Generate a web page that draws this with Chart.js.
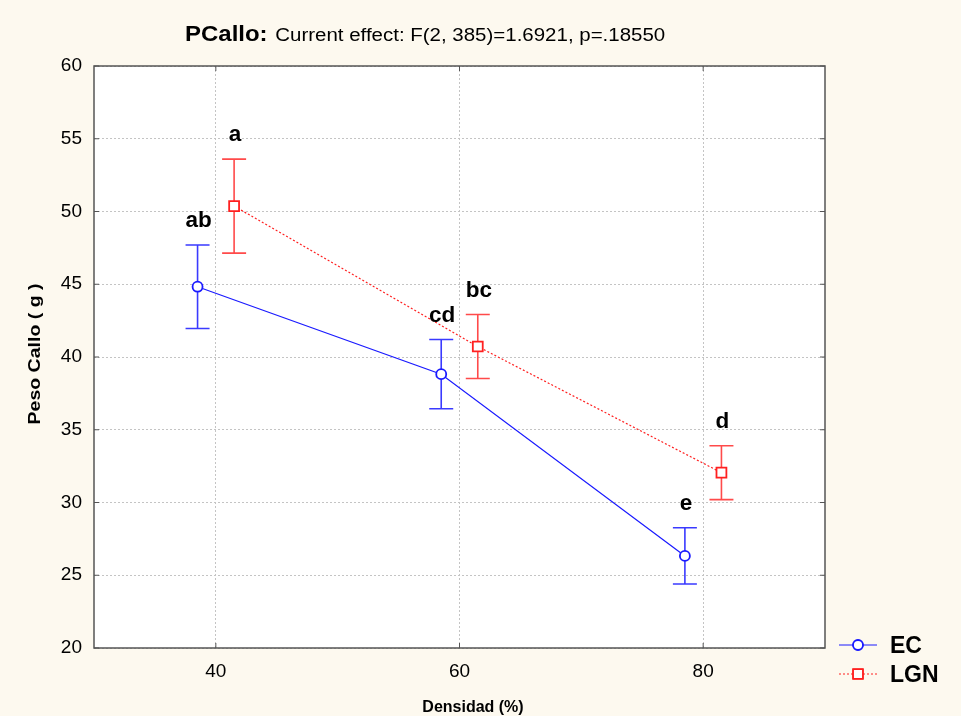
<!DOCTYPE html>
<html>
<head>
<meta charset="utf-8">
<title>PCallo</title>
<script src="https://cdn.jsdelivr.net/npm/chart.js@4.4.1/dist/chart.umd.min.js"></script>
<style>
    body { margin: 0; background: #fdf9ef; }
    canvas { display: block; }
</style>
</head>
<body>
<canvas id="pesoChart" width="961" height="716"></canvas>
<script>
// Values
const densidadEC = [38.5, 58.5, 78.5];
const densidadLGN = [41.5, 61.5, 81.5];
const mediaEC = [44.83, 38.82, 26.33];
const errorEC = [2.87, 2.38, 1.93];
const mediaLGN = [50.37, 40.72, 32.05];
const errorLGN = [3.23, 2.2, 1.85];
const letrasEC = ['ab', 'cd', 'e'];
const letrasLGN = ['a', 'bc', 'd'];
const xTicks = [40, 60, 80];
const seriesNames = ['EC', 'LGN'];

const FONT = '"Liberation Sans", Arial, sans-serif';
const BLUE = '#1a1aff';
const RED = '#ff2020';

const toPoints = (xs, ys) => xs.map((x, i) => ({ x: x, y: ys[i] }));

// draws the white plot area, error bars, frame, letters, title and legend
const decorPlugin = {
    id: 'decor',
    beforeDraw(chart) {
        const a = chart.chartArea;
        const ctx = chart.ctx;
        ctx.save();
        ctx.fillStyle = '#ffffff';
        ctx.fillRect(a.left, a.top, a.right - a.left, a.bottom - a.top);
        ctx.restore();
    },
    beforeDatasetsDraw(chart) {
        const ctx = chart.ctx;
        const xs = chart.scales.x, ys = chart.scales.y;
        const sets = [
            { x: densidadEC, m: mediaEC, e: errorEC, color: '#3a3aff' },
            { x: densidadLGN, m: mediaLGN, e: errorLGN, color: '#ff4a4a' }
        ];
        ctx.save();
        ctx.lineWidth = 1.6;
        sets.forEach(s => {
            ctx.strokeStyle = s.color;
            s.x.forEach((xv, i) => {
                const px = xs.getPixelForValue(xv);
                const top = ys.getPixelForValue(s.m[i] + s.e[i]);
                const bot = ys.getPixelForValue(s.m[i] - s.e[i]);
                ctx.beginPath();
                ctx.moveTo(px, top); ctx.lineTo(px, bot);
                ctx.moveTo(px - 12, top); ctx.lineTo(px + 12, top);
                ctx.moveTo(px - 12, bot); ctx.lineTo(px + 12, bot);
                ctx.stroke();
            });
        });
        ctx.restore();
    },
    afterDraw(chart) {
        const ctx = chart.ctx;
        const a = chart.chartArea;
        const xs = chart.scales.x, ys = chart.scales.y;
        ctx.save();

        // frame with small inward ticks
        ctx.strokeStyle = '#555555';
        ctx.lineWidth = 1.5;
        ctx.strokeRect(a.left, a.top, a.right - a.left, a.bottom - a.top);
        ctx.lineWidth = 1;
        ctx.beginPath();
        ys.ticks.forEach(t => {
            const py = ys.getPixelForValue(t.value);
            ctx.moveTo(a.left, py); ctx.lineTo(a.left + 5, py);
            ctx.moveTo(a.right, py); ctx.lineTo(a.right - 5, py);
        });
        xs.ticks.forEach(t => {
            const px = xs.getPixelForValue(t.value);
            ctx.moveTo(px, a.bottom); ctx.lineTo(px, a.bottom - 5);
            ctx.moveTo(px, a.top); ctx.lineTo(px, a.top + 5);
        });
        ctx.stroke();

        // group letters above the upper caps
        ctx.fillStyle = '#000000';
        ctx.font = 'bold 22.5px ' + FONT;
        ctx.textAlign = 'center';
        ctx.textBaseline = 'alphabetic';
        const addLetters = (xv, m, e, letters) => {
            letters.forEach((txt, i) => {
                ctx.fillText(txt, xs.getPixelForValue(xv[i]) + 1, ys.getPixelForValue(m[i] + e[i]) - 18);
            });
        };
        addLetters(densidadEC, mediaEC, errorEC, letrasEC);
        addLetters(densidadLGN, mediaLGN, errorLGN, letrasLGN);

        // title (the original text is drawn a little wide)
        ctx.save();
        ctx.textAlign = 'left';
        ctx.translate(185, 41);
        ctx.scale(1.09, 1);
        ctx.font = 'bold 22px ' + FONT;
        ctx.fillText('PCallo:', 0, 0);
        const w = ctx.measureText('PCallo:').width;
        ctx.font = '18.8px ' + FONT;
        ctx.fillText('Current effect: F(2, 385)=1.6921, p=.18550', w + 7, 0);
        ctx.restore();

        // axis titles
        ctx.font = 'bold 16px ' + FONT;
        ctx.textAlign = 'center';
        ctx.fillText('Densidad (%)', 473, 712);
        ctx.save();
        ctx.translate(40, 354);
        ctx.rotate(-Math.PI / 2);
        ctx.scale(1.22, 1);
        ctx.fillText('Peso Callo ( g )', 0, 0);
        ctx.restore();

        // legend
        const lx = a.right + 14;
        chart.data.datasets.forEach((ds, i) => {
            const ly = 645 + i * 29;
            ctx.strokeStyle = ds.borderColor;
            ctx.lineWidth = 1;
            ctx.setLineDash(ds.borderDash || []);
            ctx.beginPath();
            ctx.moveTo(lx, ly); ctx.lineTo(lx + 38, ly);
            ctx.stroke();
            ctx.setLineDash([]);
            Chart.helpers.drawPoint(ctx, {
                pointStyle: ds.pointStyle, radius: ds.pointRadius, borderWidth: ds.pointBorderWidth
            }, lx + 19, ly);
            ctx.fillStyle = '#ffffff';
            ctx.lineWidth = ds.pointBorderWidth;
            ctx.strokeStyle = ds.borderColor;
            ctx.fill();
            ctx.stroke();
            ctx.fillStyle = '#000000';
            ctx.font = 'bold 23px ' + FONT;
            ctx.textAlign = 'left';
            ctx.fillText(ds.label, lx + 51, ly + 8);
        });
        ctx.restore();
    }
};

function createPesoChart() {
    const ctx = document.getElementById('pesoChart').getContext('2d');

    new Chart(ctx, {
        type: 'line',
        data: {
            datasets: [{
                label: seriesNames[0],
                data: toPoints(densidadEC, mediaEC),
                borderColor: BLUE,
                borderWidth: 1.2,
                pointStyle: 'circle',
                pointRadius: 5,
                pointBorderWidth: 1.8,
                pointBackgroundColor: '#ffffff',
                pointBorderColor: BLUE,
                tension: 0,
            }, {
                label: seriesNames[1],
                data: toPoints(densidadLGN, mediaLGN),
                borderColor: RED,
                borderWidth: 1.2,
                borderDash: [2, 2],
                pointStyle: 'rect',
                pointRadius: 7,
                pointBorderWidth: 1.8,
                pointBackgroundColor: '#ffffff',
                pointBorderColor: RED,
                tension: 0,
            }]
        },
        options: {
            responsive: false,
            animation: false,
            layout: { padding: { left: 0, top: 66, right: 136, bottom: 0 } },
            plugins: {
                legend: { display: false },
                tooltip: { enabled: false },
            },
            scales: {
                x: {
                    type: 'linear',
                    min: 30,
                    max: 90,
                    afterBuildTicks: scale => { scale.ticks = xTicks.map(v => ({ value: v })); },
                    afterFit: scale => { scale.height = 68; },
                    grid: { color: '#c4c4c4', drawTicks: false },
                    border: { display: false, dash: [2, 2] },
                    ticks: {
                        color: '#000000',
                        padding: 12,
                        font: { family: FONT, size: 19 },
                    },
                },
                y: {
                    min: 20,
                    max: 60,
                    afterFit: scale => { scale.width = 94; },
                    grid: { color: '#c4c4c4', drawTicks: false },
                    border: { display: false, dash: [2, 2] },
                    ticks: {
                        color: '#000000',
                        stepSize: 5,
                        padding: 12,
                        font: { family: FONT, size: 19 },
                    },
                },
            },
        },
        plugins: [decorPlugin]
    });
}

window.onload = function() {
    createPesoChart();
};
</script>
</body>
</html>
